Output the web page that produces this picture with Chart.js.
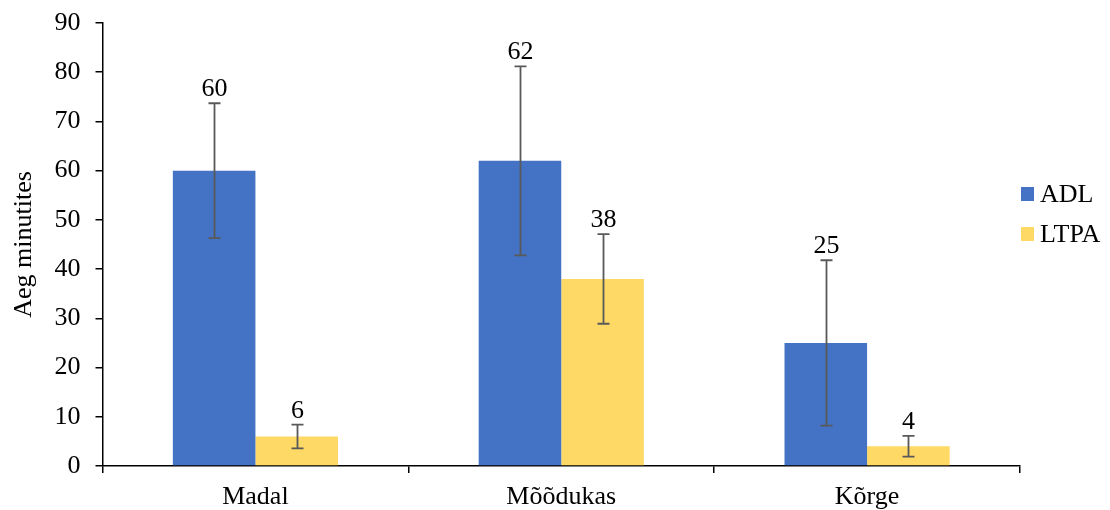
<!DOCTYPE html>
<html>
<head>
<meta charset="utf-8">
<script src="https://cdn.jsdelivr.net/npm/chart.js@4.4.1/dist/chart.umd.min.js"></script>
<style>
  html, body { margin: 0; padding: 0; background: #fff; }
  #wrap { width: 1110px; height: 510px; }
</style>
</head>
<body>
<div id="wrap"><canvas id="c" width="1110" height="510"></canvas></div>
<script>
const categories = ['Madal', 'Mõõdukas', 'Kõrge'];
const seriesNames = ['ADL', 'LTPA'];
const adlValues = [60, 62, 25];
const ltpaValues = [6, 38, 4];
const adlErrors = [13.7, 19.2, 16.8];
const ltpaErrors = [2.4, 9.1, 2.1];
const yTicks = [0, 10, 20, 30, 40, 50, 60, 70, 80, 90];

const FONT = '"Liberation Serif", "Times New Roman", serif';
const FS = 26;
const colors = ['#4472C4', '#FFD966'];

const errorBarPlugin = {
  id: 'errorBars',
  afterDatasetsDraw(chart) {
    const ctx = chart.ctx;
    const yScale = chart.scales.y;
    chart.data.datasets.forEach((ds, di) => {
      const meta = chart.getDatasetMeta(di);
      meta.data.forEach((bar, i) => {
        const v = ds.data[i];
        const e = ds.errors[i];
        const yTop = yScale.getPixelForValue(v + e);
        const yBot = yScale.getPixelForValue(v - e);
        const x = Math.round(bar.x) + 0.5;
        ctx.save();
        ctx.strokeStyle = '#595959';
        ctx.lineWidth = 1.8;
        ctx.beginPath();
        ctx.moveTo(x, yTop); ctx.lineTo(x, yBot);
        ctx.moveTo(x - 6, yTop); ctx.lineTo(x + 6, yTop);
        ctx.moveTo(x - 6, yBot); ctx.lineTo(x + 6, yBot);
        ctx.stroke();
        ctx.fillStyle = '#000';
        ctx.font = FS + 'px ' + FONT;
        ctx.textAlign = 'center';
        ctx.textBaseline = 'alphabetic';
        ctx.fillText(String(v), x, yTop - 7);
        ctx.restore();
      });
    });
  }
};

const legendPlugin = {
  id: 'customLegend',
  afterDraw(chart) {
    const ctx = chart.ctx;
    ctx.save();
    chart.data.datasets.forEach((ds, di) => {
      const cy = 194 + di * 40;
      ctx.fillStyle = ds.backgroundColor;
      ctx.fillRect(1021, cy - 7, 13, 14);
      ctx.fillStyle = '#000';
      ctx.font = FS + 'px ' + FONT;
      ctx.textAlign = 'left';
      ctx.textBaseline = 'middle';
      ctx.fillText(ds.label, 1040, cy + 1);
    });
    ctx.restore();
  }
};

new Chart(document.getElementById('c'), {
  type: 'bar',
  data: {
    labels: categories,
    datasets: [
      { label: seriesNames[0], data: adlValues, errors: adlErrors, backgroundColor: colors[0] },
      { label: seriesNames[1], data: ltpaValues, errors: ltpaErrors, backgroundColor: colors[1] }
    ]
  },
  options: {
    responsive: false,
    animation: false,
    devicePixelRatio: 1,
    layout: { padding: { top: 23, right: 90, bottom: 0, left: 0 } },
    datasets: { bar: { categoryPercentage: 0.54, barPercentage: 1.0, borderWidth: 0 } },
    plugins: { legend: { display: false }, tooltip: { enabled: false } },
    scales: {
      x: {
        offset: true,
        grid: { display: true, drawOnChartArea: false, drawTicks: true, tickLength: 7, color: '#000', lineWidth: 1.5, offset: true },
        border: { display: true, color: '#000', width: 1.5 },
        ticks: { color: '#000', font: { family: FONT, size: FS }, padding: 9 },
        afterFit(scale) { scale.height = 44; scale.paddingLeft = 0; scale.paddingRight = 0; }
      },
      y: {
        min: 0, max: 90,
        afterBuildTicks(scale) { scale.ticks = yTicks.map(v => ({ value: v })); },
        grid: { display: true, drawOnChartArea: false, drawTicks: true, tickLength: 7, color: '#000', lineWidth: 1.5 },
        border: { display: true, color: '#000', width: 1.5 },
        ticks: { color: '#000', font: { family: FONT, size: FS }, padding: 15 },
        title: { display: true, text: 'Aeg minutites', color: '#000', font: { family: FONT, size: FS }, padding: { top: 9, bottom: 0 } },
        afterFit(scale) { scale.width = 102.5; scale.paddingTop = 0; scale.paddingBottom = 0; }
      }
    }
  },
  plugins: [errorBarPlugin, legendPlugin]
});
</script>
</body>
</html>
